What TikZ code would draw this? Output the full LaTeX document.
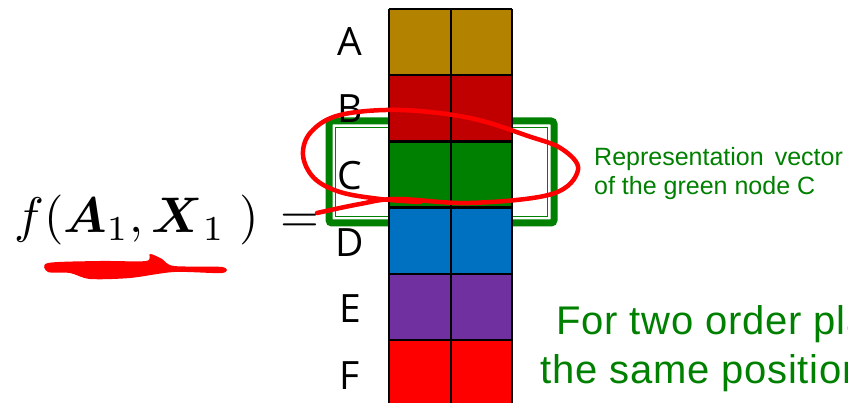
\documentclass[tikz,border=0pt]{standalone}
\usepackage{amsmath}
\usepackage{fontspec}
\newfontfamily\labelfont{Open Sans}
\newfontfamily\notefont{Liberation Sans}
\newfontfamily\bodyfont[LetterSpace=2]{Liberation Sans}
\definecolor{cellA}{RGB}{179,131,0}
\definecolor{cellB}{RGB}{192,0,0}
\definecolor{cellC}{RGB}{0,128,0}
\definecolor{cellD}{RGB}{0,112,192}
\definecolor{cellE}{RGB}{112,48,160}
\definecolor{cellF}{RGB}{255,0,0}
\definecolor{frameGreen}{RGB}{0,128,0}
\definecolor{noteGreen}{RGB}{0,128,0}
\definecolor{penRed}{RGB}{255,0,0}
\tikzset{
  rowlabel/.style={inner sep=0pt, font=\labelfont\fontsize{39}{39}\selectfont},
  notetext/.style={inner sep=0pt, anchor=base west, text=noteGreen, font=\notefont\fontsize{25}{25}\selectfont},
  bodytext/.style={inner sep=0pt, anchor=base west, text=noteGreen, font=\bodyfont\fontsize{40}{40}\selectfont},
  gridline/.style={line width=2.5pt, black},
  pen/.style={penRed, line width=4.5pt, line cap=round, line join=round},
}
\begin{document}
\begin{tikzpicture}[x=1pt,y=-1pt]
\useasboundingbox (0,0) rectangle (848,403);
\clip (0,0) rectangle (848,403);
\fill[white] (0,0) rectangle (848,403);

% highlight frame around row C (behind the cells)
\draw[frameGreen, line width=7pt, rounded corners=3pt] (329,121) rectangle (554,223);
\draw[frameGreen, line width=1.4pt] (335.5,127.5) rectangle (547.5,216.5);

% embedding matrix: one row per node
\foreach \c [count=\i from 0] in {cellA,cellB,cellC,cellD,cellE,cellF}{
  \fill[\c] (389,{9+66.2*\i}) rectangle (512,{9+66.2*(\i+1)});
  \draw[gridline] (389,{9+66.2*\i}) -- (512,{9+66.2*\i});
}
\draw[gridline] (389,9) -- (389,410);
\draw[gridline] (512,9) -- (512,410);
\draw[line width=2pt] (450.5,9) -- (450.5,410);

% row labels
\node[rowlabel] (labA) at (350,42) {A};
\node[rowlabel] (labB) at (350,109) {B};
\node[rowlabel] (labC) at (350,176) {C};
\node[rowlabel] (labD) at (350,243) {D};
\node[rowlabel] (labE) at (350,309) {E};
\node[rowlabel] (labF) at (350,376) {F};

% encoder expression
\node[anchor=base west, inner sep=0pt] (fx) at (14,233)
  {\scalebox{5.0}{$f(\boldsymbol{A}_1,\boldsymbol{X}_1\;)\mathrel{\,=}$}};

% notes
\node[notetext] (noteA) at (594,166) {Representation\, vector};
\node[notetext] (noteB) at (594,195) {of the green node C};
\node[bodytext] (bodyA) at (556,334) {For two order pla};
\node[bodytext] (bodyB) at (540,383) {the same position};

% pen annotations
\draw[pen] plot[smooth, tension=0.6] coordinates {
  (317,213) (360,204) (397,199) (470,203) (552,194) (578,170) (562,149)
  (528,136) (470,118) (400,110) (340,115) (311,132) (303,155) (314,178)
  (340,192) (380,199) (420,202)};
\fill[penRed] plot[smooth cycle, tension=0.5] coordinates {
  (48,263) (100,261) (146,261) (150,254) (162,259) (174,266) (222,267)
  (222,273) (174,272) (130,278) (90,279) (70,273) (48,272)};
\end{tikzpicture}
\end{document}
